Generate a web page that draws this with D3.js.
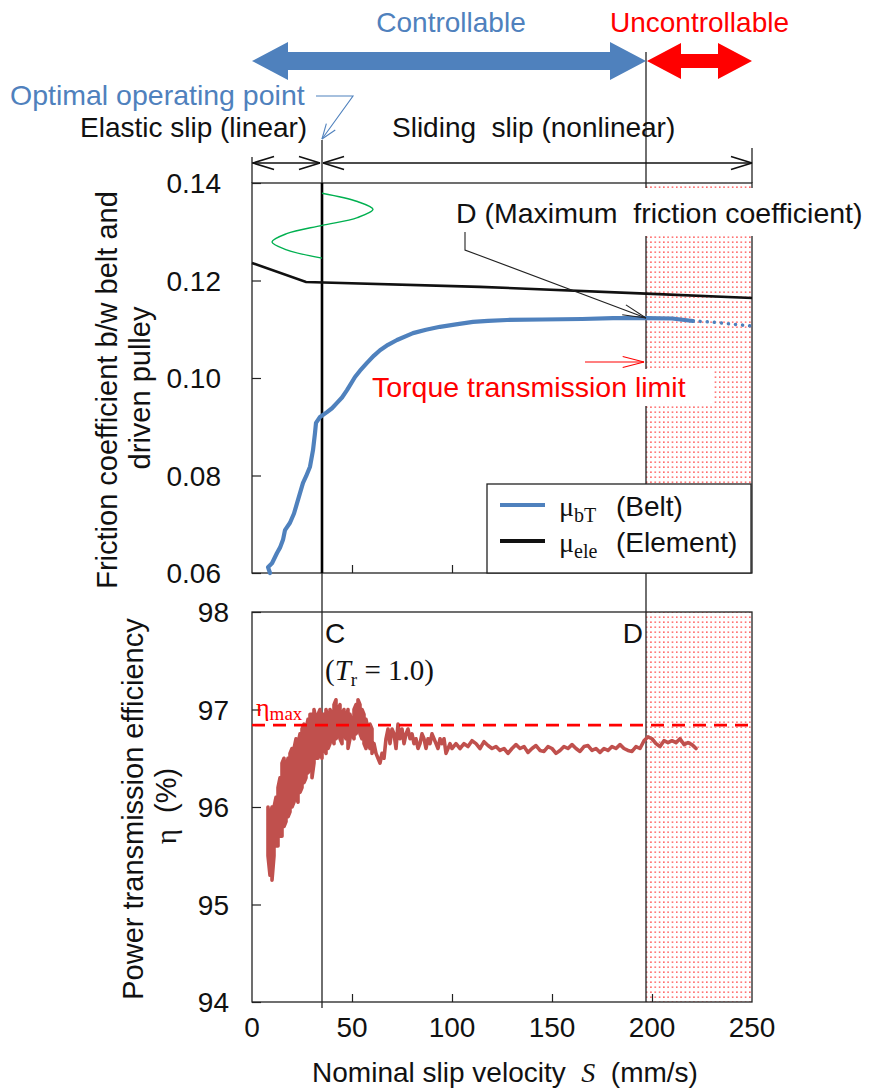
<!DOCTYPE html>
<html><head><meta charset="utf-8">
<script src="https://cdn.jsdelivr.net/npm/d3@7"></script>
<style>
body{margin:0;background:#fff;}
svg{display:block;font-family:Arial,"Liberation Sans",sans-serif;}
</style></head><body>
<svg id="c" width="870" height="1090"></svg>
<script>
// ---------- data ----------
const xTicks = [0, 50, 100, 150, 200, 250];
const muTicks = [0.06, 0.08, 0.10, 0.12, 0.14];
const etaTicks = [94, 95, 96, 97, 98];

const muBeltX = [9, 8, 10, 12.5, 14, 15.5, 16.5, 19, 21, 23, 25.5, 27, 29, 30.5, 31.5, 32, 34, 37.5, 40, 42.5, 45, 47.5, 51.5, 54, 57.5, 61, 64, 68, 72.5, 80.5, 87, 94, 102, 110.5, 118, 127.5, 145, 165, 180.5, 197, 210, 220.5];
const muBeltY = [0.0600, 0.0612, 0.0620, 0.0641, 0.0652, 0.0668, 0.0688, 0.0703, 0.0722, 0.0750, 0.0785, 0.0798, 0.0818, 0.0852, 0.0887, 0.0908, 0.0920, 0.0930, 0.0938, 0.0949, 0.0960, 0.0975, 0.1002, 0.1015, 0.1031, 0.1046, 0.1057, 0.1068, 0.1078, 0.1092, 0.1099, 0.1105, 0.1110, 0.1115, 0.1117, 0.1119, 0.1120, 0.1121, 0.1123, 0.1123, 0.1122, 0.1117];
const muBeltExtX = [220.5, 229, 239, 249];
const muBeltExtY = [0.1117, 0.1115, 0.1111, 0.1107];

const muEleX = [0, 27, 114, 197, 250];
const muEleY = [0.1236, 0.1197, 0.1187, 0.1173, 0.1164];

const greenX = [35, 52.7, 60.5, 52.7, 35, 17.3, 10, 17.3, 35];
const greenY = [0.1379, 0.1362, 0.1346, 0.1329, 0.1313, 0.1296, 0.1279, 0.1263, 0.1246];

const etaBandX = [8,9,10,11,12,13,14,15,16,17,18,19,20,21,22,23,24,25,26,27,28,29,30,31,32,33,34,35,36,37,38,39,40,41,42,43,44,45,46,47,48,49,50,51,52,53,54,55,56,57,58,59,60];
const etaBandHi = [96.0,95.9,96.0,96.0,96.1,96.2,96.3,96.45,96.5,96.4,96.5,96.55,96.6,96.6,96.7,96.65,96.75,96.8,96.85,96.8,96.9,96.95,96.95,97.0,96.9,96.95,97.0,96.95,96.95,97.0,96.9,97.0,96.95,97.05,97.1,97.0,97.05,96.95,97.0,96.9,97.0,96.95,96.85,97.0,97.05,97.1,97.05,97.0,96.95,96.9,96.8,96.85,96.8];
const etaBandLo = [95.5,95.3,95.25,95.5,95.6,95.6,95.7,95.7,95.8,95.85,95.9,95.95,96.0,96.05,96.1,96.05,96.15,96.2,96.25,96.3,96.35,96.4,96.3,96.45,96.5,96.5,96.55,96.5,96.6,96.55,96.6,96.65,96.7,96.65,96.7,96.75,96.7,96.65,96.75,96.7,96.6,96.7,96.75,96.7,96.75,96.8,96.75,96.7,96.65,96.6,96.65,96.6,96.55];

const etaTailX = [61,62,63,64,65,66,67,68,69,70,71,72,73,74,75,76,77,78,79,80,81,82,83,84,85,86,87,88,89,90,91,92,93,94,95,96,97,98,99,100,102,104,106,108,110,112,114,116,118,120,122,124,126,128,130,132,134,136,138,140,142,144,146,148,150,152,154,156,158,160,162,164,166,168,170,172,174,176,178,180,182,184,186,188,190,192,194,196,198,200,202,204,206,208,210,212,214,216,218,220,222];
const etaTailY = [96.65,96.55,96.5,96.45,96.55,96.5,96.7,96.8,96.65,96.8,96.75,96.6,96.85,96.7,96.8,96.65,96.75,96.8,96.7,96.75,96.65,96.7,96.6,96.65,96.75,96.7,96.6,96.7,96.65,96.75,96.7,96.65,96.6,96.7,96.65,96.7,96.55,96.6,96.65,96.6,96.65,96.6,96.65,96.62,96.68,96.65,96.6,96.67,96.63,96.6,96.62,96.58,96.6,96.55,96.6,96.64,96.6,96.62,96.56,96.6,96.63,96.58,96.57,96.62,96.6,96.55,96.58,96.62,96.6,96.64,96.6,96.57,96.62,96.63,96.58,96.6,96.56,96.6,96.58,96.62,96.6,96.64,96.6,96.58,96.57,96.62,96.6,96.68,96.72,96.7,96.65,96.62,96.68,96.66,96.68,96.66,96.7,96.64,96.66,96.64,96.6];

const etaMax = 96.84;
const pointC = 35, pointD = 197;

// ---------- layout ----------
const svg = d3.select("#c");
const x = d3.scaleLinear().domain([0, 250]).range([252, 752]);
const yMu = d3.scaleLinear().domain([0.06, 0.14]).range([573, 183]);
const yEta = d3.scaleLinear().domain([94, 98]).range([1002, 612]);
const BLUE = "#4F81BD", RED = "#FF0000", BROWN = "#C0504D";
const FS = 28;

const defs = svg.append("defs");
const pat = defs.append("pattern").attr("id", "dots").attr("patternUnits", "userSpaceOnUse")
  .attr("width", 4.3).attr("height", 5);
pat.append("rect").attr("x", 1).attr("y", 1.5).attr("width", 1.3).attr("height", 1.3).attr("fill", "#ff2020");

// dotted uncontrollable regions
[[yMu, 0.06, 0.14], [yEta, 94, 98]].forEach(([ys, a, b]) => {
  svg.append("rect").attr("x", x(pointD)).attr("y", ys(b)).attr("width", x(250) - x(pointD))
    .attr("height", ys(a) - ys(b)).attr("fill", "url(#dots)");
});

// axes
function frame(ys, ticks, fmt, labelX) {
  const g = svg.append("g");
  g.append("rect").attr("x", x(0)).attr("y", ys.range()[1]).attr("width", x(250) - x(0))
    .attr("height", ys.range()[0] - ys.range()[1]).attr("fill", "none").attr("stroke", "#222").attr("stroke-width", 1.3);
  const ya = g.append("g").attr("transform", `translate(${x(0)},0)`)
    .call(d3.axisRight(ys).tickValues(ticks).tickSize(9).tickFormat(""));
  ya.select(".domain").remove();
  ya.selectAll("line").attr("stroke", "#222").attr("stroke-width", 1.2);
  g.selectAll("text.yl").data(ticks).join("text").attr("class", "yl")
    .attr("x", labelX).attr("y", d => ys(d)).attr("dy", "0.36em").attr("text-anchor", "end")
    .attr("font-size", FS).attr("fill", "#111").text(fmt);
  const xa = g.append("g").attr("transform", `translate(0,${ys.range()[0]})`)
    .call(d3.axisTop(x).tickValues([50, 100, 150, 200]).tickSize(8).tickFormat(""));
  xa.select(".domain").remove();
  xa.selectAll("line").attr("stroke", "#222").attr("stroke-width", 1.2);
}
frame(yMu, muTicks, d3.format(".2f"), 221);
frame(yEta, etaTicks, d3.format("d"), 229);

svg.selectAll("text.xl").data(xTicks).join("text").attr("class", "xl")
  .attr("x", d => x(d)).attr("y", 1037).attr("text-anchor", "middle")
  .attr("font-size", FS).attr("fill", "#111").text(d => d);

// vertical lines C and D
svg.append("line").attr("x1", x(pointD)).attr("x2", x(pointD)).attr("y1", 52).attr("y2", yEta(94))
  .attr("stroke", "#222").attr("stroke-width", 1.3);
svg.append("line").attr("x1", x(pointC)).attr("x2", x(pointC)).attr("y1", 140).attr("y2", 1008)
  .attr("stroke", "#222").attr("stroke-width", 1.3);
svg.append("line").attr("x1", x(pointC)).attr("x2", x(pointC)).attr("y1", yMu(0.14)).attr("y2", yMu(0.06))
  .attr("stroke", "#000").attr("stroke-width", 2.6);
// end markers at 0 and 250
svg.append("line").attr("x1", x(0)).attr("x2", x(0)).attr("y1", 157).attr("y2", 183).attr("stroke", "#222").attr("stroke-width", 1.3);
svg.append("line").attr("x1", x(250)).attr("x2", x(250)).attr("y1", 148).attr("y2", 183).attr("stroke", "#222").attr("stroke-width", 1.3);

// white label boxes (cover dots and D line)
svg.append("rect").attr("x", 446).attr("y", 188).attr("width", 420).attr("height", 48).attr("fill", "#fff");
svg.append("rect").attr("x", 368).attr("y", 369).attr("width", 346).attr("height", 37).attr("fill", "#fff");

// green illustration
svg.append("path").datum(greenX.map((v, i) => [v, greenY[i]]))
  .attr("d", d3.line().x(d => x(d[0])).y(d => yMu(d[1])).curve(d3.curveCatmullRom))
  .attr("fill", "none").attr("stroke", "#00B050").attr("stroke-width", 1.4);

// element line
svg.append("path").datum(muEleX.map((v, i) => [v, muEleY[i]]))
  .attr("d", d3.line().x(d => x(d[0])).y(d => yMu(d[1])))
  .attr("fill", "none").attr("stroke", "#111").attr("stroke-width", 2.6);

// belt line
svg.append("path").datum(muBeltX.map((v, i) => [v, muBeltY[i]]))
  .attr("d", d3.line().x(d => x(d[0])).y(d => yMu(d[1])))
  .attr("fill", "none").attr("stroke", BLUE).attr("stroke-width", 4.2).attr("stroke-linejoin", "round").attr("stroke-linecap", "round");
svg.append("path").datum(muBeltExtX.map((v, i) => [v, muBeltExtY[i]]))
  .attr("d", d3.line().x(d => x(d[0])).y(d => yMu(d[1])))
  .attr("fill", "none").attr("stroke", BLUE).attr("stroke-width", 3.5).attr("stroke-linecap", "round")
  .attr("stroke-dasharray", "0.1 7");

// efficiency
const etaPts = [];
etaBandX.forEach((v, i) => {
  if (i % 2 === 0) { etaPts.push([v, etaBandHi[i]]); etaPts.push([v, etaBandLo[i]]); }
  else { etaPts.push([v, etaBandLo[i]]); etaPts.push([v, etaBandHi[i]]); }
});
etaTailX.forEach((v, i) => etaPts.push([v, etaTailY[i]]));
svg.append("path").datum(etaPts)
  .attr("d", d3.line().x(d => x(d[0])).y(d => yEta(d[1])))
  .attr("fill", "none").attr("stroke", BROWN).attr("stroke-width", 3.6).attr("stroke-linejoin", "round").attr("stroke-linecap", "round");

svg.append("line").attr("x1", x(0)).attr("x2", x(250)).attr("y1", yEta(etaMax)).attr("y2", yEta(etaMax))
  .attr("stroke", RED).attr("stroke-width", 2.6).attr("stroke-dasharray", "13 8");

// legend
const lg = svg.append("g");
lg.append("rect").attr("x", 487).attr("y", 484).attr("width", 264).attr("height", 89)
  .attr("fill", "#fff").attr("stroke", "#222").attr("stroke-width", 1.3);
const legItems = [["bT", "(Belt)", BLUE, 505], ["ele", "(Element)", "#111", 541]];
legItems.forEach(([sub, lab, col, yy]) => {
  lg.append("line").attr("x1", 500).attr("x2", 545).attr("y1", yy).attr("y2", yy).attr("stroke", col).attr("stroke-width", 4);
  const t = lg.append("text").attr("x", 559).attr("y", yy + 11).attr("font-size", FS).attr("fill", "#111");
  t.append("tspan").attr("font-family", "'Liberation Serif','Times New Roman',serif").text("μ");
  t.append("tspan").attr("font-family", "'Liberation Serif','Times New Roman',serif").attr("font-size", 20).attr("dy", 6).text(sub);
  t.append("tspan").attr("x", 616).attr("dy", -6).text(lab);
});

// ---------- annotations ----------
function arrowPoly(x1, x2, cy, shaft, head, hl, col) {
  const pts = [[x1, cy], [x1 + hl, cy - head], [x1 + hl, cy - shaft], [x2 - hl, cy - shaft], [x2 - hl, cy - head],
    [x2, cy], [x2 - hl, cy + head], [x2 - hl, cy + shaft], [x1 + hl, cy + shaft], [x1 + hl, cy + head]];
  svg.append("polygon").attr("points", pts.map(p => p.join(",")).join(" ")).attr("fill", col);
}
arrowPoly(x(0), x(pointD), 61, 9, 19, 36, BLUE);
arrowPoly(x(pointD) + 1, x(250), 61, 7, 18, 34, RED);

svg.append("text").attr("x", (x(0) + x(pointD)) / 2 + 2).attr("y", 32).attr("text-anchor", "middle")
  .attr("font-size", FS).attr("fill", BLUE).text("Controllable");
svg.append("text").attr("x", 789).attr("y", 32).attr("text-anchor", "end")
  .attr("font-size", FS).attr("fill", RED).text("Uncontrollable");

function openHead(g, tx, ty, ang, len, spread, col, w) {
  [1, -1].forEach(s => {
    const a = ang + s * spread;
    g.append("line").attr("x1", tx).attr("y1", ty).attr("x2", tx - len * Math.cos(a)).attr("y2", ty - len * Math.sin(a))
      .attr("stroke", col).attr("stroke-width", w);
  });
}
const ann = svg.append("g");
// optimal operating point
ann.append("text").attr("x", 10).attr("y", 105).attr("font-size", 28.5).attr("fill", BLUE).text("Optimal operating point");
ann.append("polyline").attr("points", `316,96 353,96 ${x(pointC)},139`).attr("fill", "none").attr("stroke", BLUE).attr("stroke-width", 1.1);
openHead(ann, x(pointC), 139, Math.atan2(139 - 96, x(pointC) - 353), 16, 0.35, BLUE, 1.1);

// slip region labels
ann.append("text").attr("x", 80).attr("y", 137).attr("font-size", FS).attr("fill", "#111").text("Elastic slip (linear)");
ann.append("text").attr("x", 392).attr("y", 137).attr("font-size", FS).attr("fill", "#111")
  .attr("xml:space", "preserve").style("white-space", "pre").text("Sliding  slip (nonlinear)");
const ay = 163;
ann.append("line").attr("x1", x(0)).attr("x2", x(pointC) - 2).attr("y1", ay).attr("y2", ay).attr("stroke", "#111").attr("stroke-width", 1.4);
openHead(ann, x(0) + 1, ay, Math.PI, 22, 0.3, "#111", 1.6);
openHead(ann, x(pointC) - 2, ay, 0, 22, 0.3, "#111", 1.6);
ann.append("line").attr("x1", x(pointC) + 1).attr("x2", x(250)).attr("y1", ay).attr("y2", ay).attr("stroke", "#111").attr("stroke-width", 1.4);
openHead(ann, x(pointC) + 1, ay, Math.PI, 22, 0.3, "#111", 1.6);
openHead(ann, x(250), ay, 0, 22, 0.3, "#111", 1.6);

// D label
ann.append("text").attr("x", 456).attr("y", 223).attr("font-size", 28.5).attr("fill", "#111")
  .attr("xml:space", "preserve").style("white-space", "pre").text("D (Maximum  friction coefficient)");
ann.append("polyline").attr("points", `465,232 465,250 ${x(pointD)},${yMu(0.1123)}`).attr("fill", "none").attr("stroke", "#222").attr("stroke-width", 1.1);
openHead(ann, x(pointD), yMu(0.1123), Math.atan2(yMu(0.1123) - 250, x(pointD) - 465), 24, 0.22, "#222", 1.1);

// torque transmission limit
ann.append("text").attr("x", 372).attr("y", 397).attr("font-size", 28.5).attr("fill", RED).text("Torque transmission limit");
ann.append("line").attr("x1", 585).attr("x2", x(pointD) - 2).attr("y1", 362).attr("y2", 362).attr("stroke", RED).attr("stroke-width", 1.1);
openHead(ann, x(pointD) - 2, 362, 0, 22, 0.25, RED, 1.1);

// bottom chart labels
ann.append("text").attr("x", 325).attr("y", 643).attr("font-size", FS).attr("fill", "#111").text("C");
ann.append("text").attr("x", 643).attr("y", 643).attr("text-anchor", "end").attr("font-size", FS).attr("fill", "#111").text("D");
const tr = ann.append("text").attr("x", 325).attr("y", 680).attr("font-size", 29).attr("fill", "#111")
  .attr("font-family", "'Liberation Serif','Times New Roman',serif");
tr.append("tspan").text("(");
tr.append("tspan").attr("font-style", "italic").text("T");
tr.append("tspan").attr("font-size", 19).attr("dy", 6).text("r");
tr.append("tspan").attr("dy", -6).text(" = 1.0)");
const em = ann.append("text").attr("x", 256).attr("y", 716).attr("font-size", 26).attr("fill", RED)
  .attr("font-family", "'Liberation Serif','Times New Roman',serif");
em.append("tspan").text("η");
em.append("tspan").attr("font-size", 19).attr("dy", 4).text("max");

// axis titles
function vtitle(txt, cx, cy, fs) {
  return svg.append("text").attr("transform", `translate(${cx},${cy}) rotate(-90)`).attr("text-anchor", "middle")
    .attr("font-size", fs).attr("fill", "#111").text(txt);
}
vtitle("Friction coefficient b/w belt and", 117, 390, 29);
vtitle("driven pulley", 150, 388, 29);
vtitle("Power transmission efficiency", 143, 809, 29);
const et = svg.append("text").attr("transform", `translate(176,806) rotate(-90)`).attr("text-anchor", "middle")
  .attr("font-size", 29).attr("fill", "#111").style("white-space", "pre");
et.append("tspan").attr("font-family", "'Liberation Serif',serif").text("η");
et.append("tspan").text("  (%)");

const xt = svg.append("text").attr("x", 505).attr("y", 1082).attr("text-anchor", "middle").attr("font-size", FS).attr("fill", "#111")
  .style("white-space", "pre");
xt.append("tspan").text("Nominal slip velocity  ");
xt.append("tspan").attr("font-family", "'Liberation Serif',serif").attr("font-style", "italic").text("S");
xt.append("tspan").text("  (mm/s)");
</script>
</body></html>
